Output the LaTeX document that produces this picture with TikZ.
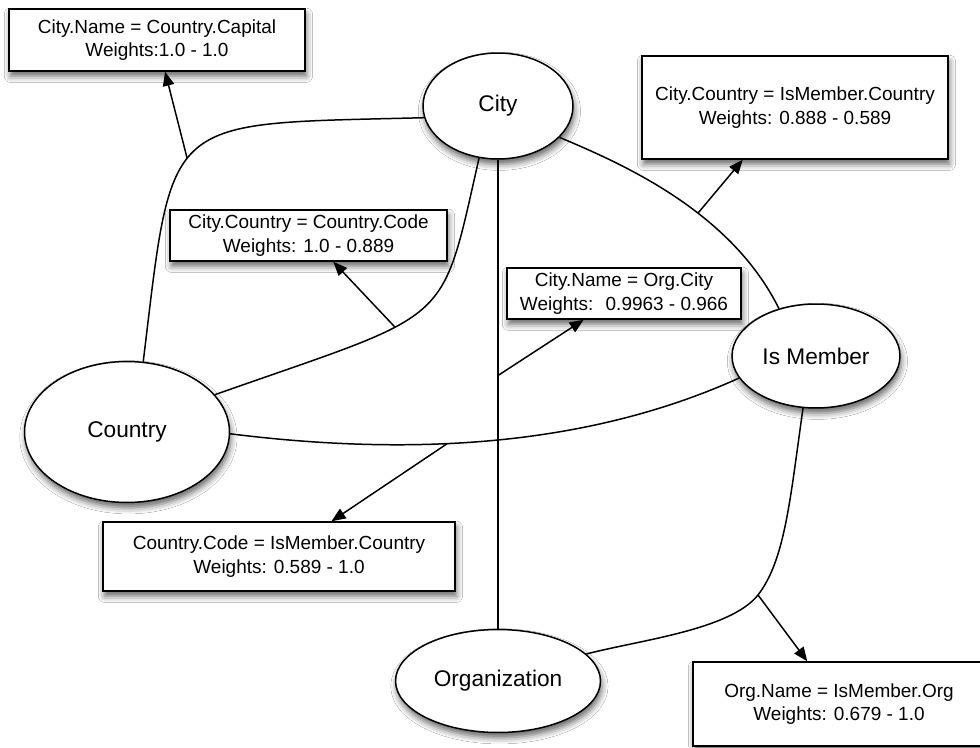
\documentclass[tikz,border=0pt]{standalone}
\usepackage{fontspec}
\setmainfont{Liberation Sans}
\usetikzlibrary{arrows.meta,shapes.geometric,shadows.blur}
\begin{document}
\begin{tikzpicture}[x=0.02cm,y=-0.02cm,
  softshadow/.style={blur shadow={shadow xshift=0.8pt,shadow yshift=-3pt,shadow blur radius=3.5pt,shadow opacity=60}},
  entity/.style={ellipse,draw,line width=0.85pt,fill=white,inner sep=0pt,softshadow,
    font=\fontsize{12.9}{15}\selectfont},
  relbox/.style={rectangle,draw,line width=0.85pt,fill=white,inner sep=0pt,align=center,softshadow,
    font=\fontsize{10.8}{13.2}\selectfont},
  link/.style={line width=0.85pt},
  arr/.style={line width=0.85pt,-{Triangle[length=8pt,width=6.5pt]}}]

% canvas
\fill[white] (0,0) rectangle (980,747);
\useasboundingbox (0,0) rectangle (980,747);

% entities
\node[entity,minimum width=3cm,minimum height=2.12cm] (city) at (498,106) {City};
\node[entity,minimum width=4.1cm,minimum height=2.82cm] (country) at (127,432) {Country};
\node[entity,minimum width=3.36cm,minimum height=2.08cm] (ismember) at (816,356) {Is Member};
\node[entity,minimum width=4.1cm,minimum height=2.06cm] (org) at (498,681) {Organization};

% join conditions
\node[relbox,minimum width=5.92cm,minimum height=1.24cm] (capital) at (157,40)
  {City.Name = Country.Capital\\Weights:1.0 - 1.0};
\node[relbox,minimum width=6.12cm,minimum height=2.06cm] (citymember) at (795,107.5)
  {City.Country = IsMember.Country\\Weights: 0.888 - 0.589};
\node[relbox,minimum width=5.54cm,minimum height=1.02cm] (citycode) at (308.5,235.5)
  {City.Country = Country.Code\\Weights: 1.0 - 0.889};
\node[relbox,minimum width=4.68cm,minimum height=1.02cm] (cityorg) at (624,293.5)
  {City.Name = Org.City\\Weights: \ 0.9963 - 0.966};
\node[relbox,minimum width=7.04cm,minimum height=1.38cm] (codemember) at (279,556.5)
  {Country.Code = IsMember.Country\\Weights: 0.589 - 1.0};
\node[relbox,minimum width=5.84cm,minimum height=1.68cm] (orgmember) at (839,704)
  {Org.Name = IsMember.Org\\Weights: 0.679 - 1.0};

% relationships between entities
\draw[link] (country.77) .. controls (173.5,112) and (161,124.5) .. (city.189)
  coordinate[pos=0.45] (m1);
\draw[link] (country.23) .. controls (455,310) and (440,330) .. (city.250)
  coordinate[pos=0.38] (m2);
\draw[link] (city) -- (org) coordinate[pos=0.46] (m3);
\draw[link] (city.-27) .. controls (620,163) and (730,210) .. (ismember.128)
  coordinate[pos=0.6] (m4);
\draw[link] (country.-1) .. controls (400,455) and (580,450) .. (ismember.196)
  coordinate[pos=0.42] (m5);
\draw[link] (ismember.256) .. controls (790,500) and (785,560) .. (758,595) coordinate (m6)
  .. controls (730,630) and (640,640) .. (org.17);

% labels attached to each relationship
\draw[arr] (m1) -- (capital);
\draw[arr] (m2) -- (citycode);
\draw[arr] (m3) -- (cityorg);
\draw[arr] (m4) -- (citymember.225);
\draw[arr] (m5) -- (codemember);
\draw[arr] (m6) -- (orgmember);
\end{tikzpicture}
\end{document}
